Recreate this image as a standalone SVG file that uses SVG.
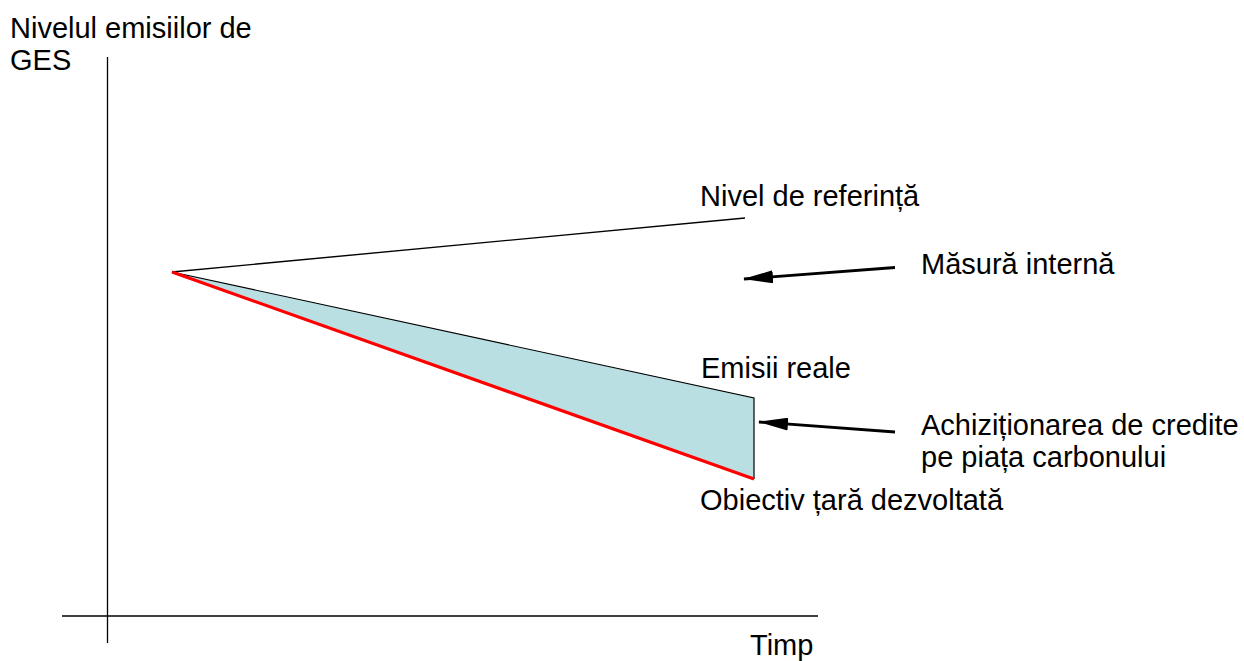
<svg xmlns="http://www.w3.org/2000/svg" width="1244" height="661" viewBox="0 0 1244 661">
<style>
text{font-family:"Liberation Sans",Arial,sans-serif;font-size:29px;fill:#000}
.ax{stroke:#000;stroke-width:1.3;fill:none}
.arr{stroke:#000;stroke-width:2.8;fill:none;marker-end:url(#ah)}
</style>
<defs>
<marker id="ah" viewBox="0 0 30 13" refX="29" refY="6.5" markerWidth="30" markerHeight="13" markerUnits="userSpaceOnUse" orient="auto">
<path d="M0,0 L30,6.5 L0,13 z" fill="#000"/>
</marker>
</defs>
<rect width="1244" height="661" fill="#fff"/>
<g id="axes">
<line class="ax" x1="107.5" y1="57" x2="107.5" y2="643"/>
<line class="ax" x1="62" y1="616" x2="818" y2="616"/>
<text x="10" y="38">Nivelul emisiilor de</text>
<text x="10" y="70">GES</text>
<text x="750" y="655">Timp</text>
</g>
<g id="gap-area">
<polygon points="172,272 754,398 754,479" fill="#b9dfe3" stroke="none"/>
<polyline points="172,272 754,398 754,479" fill="none" stroke="#000" stroke-width="1.2"/>
</g>
<g id="reference-level">
<line x1="172" y1="272" x2="745" y2="218" stroke="#000" stroke-width="1.4"/>
<text x="700" y="206">Nivel de referință</text>
</g>
<g id="actual-emissions">
<text x="701" y="378">Emisii reale</text>
</g>
<g id="target">
<line x1="172" y1="272" x2="754" y2="479" stroke="#f00" stroke-width="3.2"/>
<text x="700" y="510">Obiectiv țară dezvoltată</text>
</g>
<g id="internal-measure">
<text x="921" y="274">Măsură internă</text>
</g>
<g id="carbon-market">
<text x="921" y="435">Achiziționarea de credite</text>
<text x="921" y="467">pe piața carbonului</text>
</g>
<g id="connectors">
<line class="arr" x1="895" y1="267.5" x2="744" y2="279"/>
<line class="arr" x1="895" y1="432" x2="759" y2="422"/>
</g>
</svg>
